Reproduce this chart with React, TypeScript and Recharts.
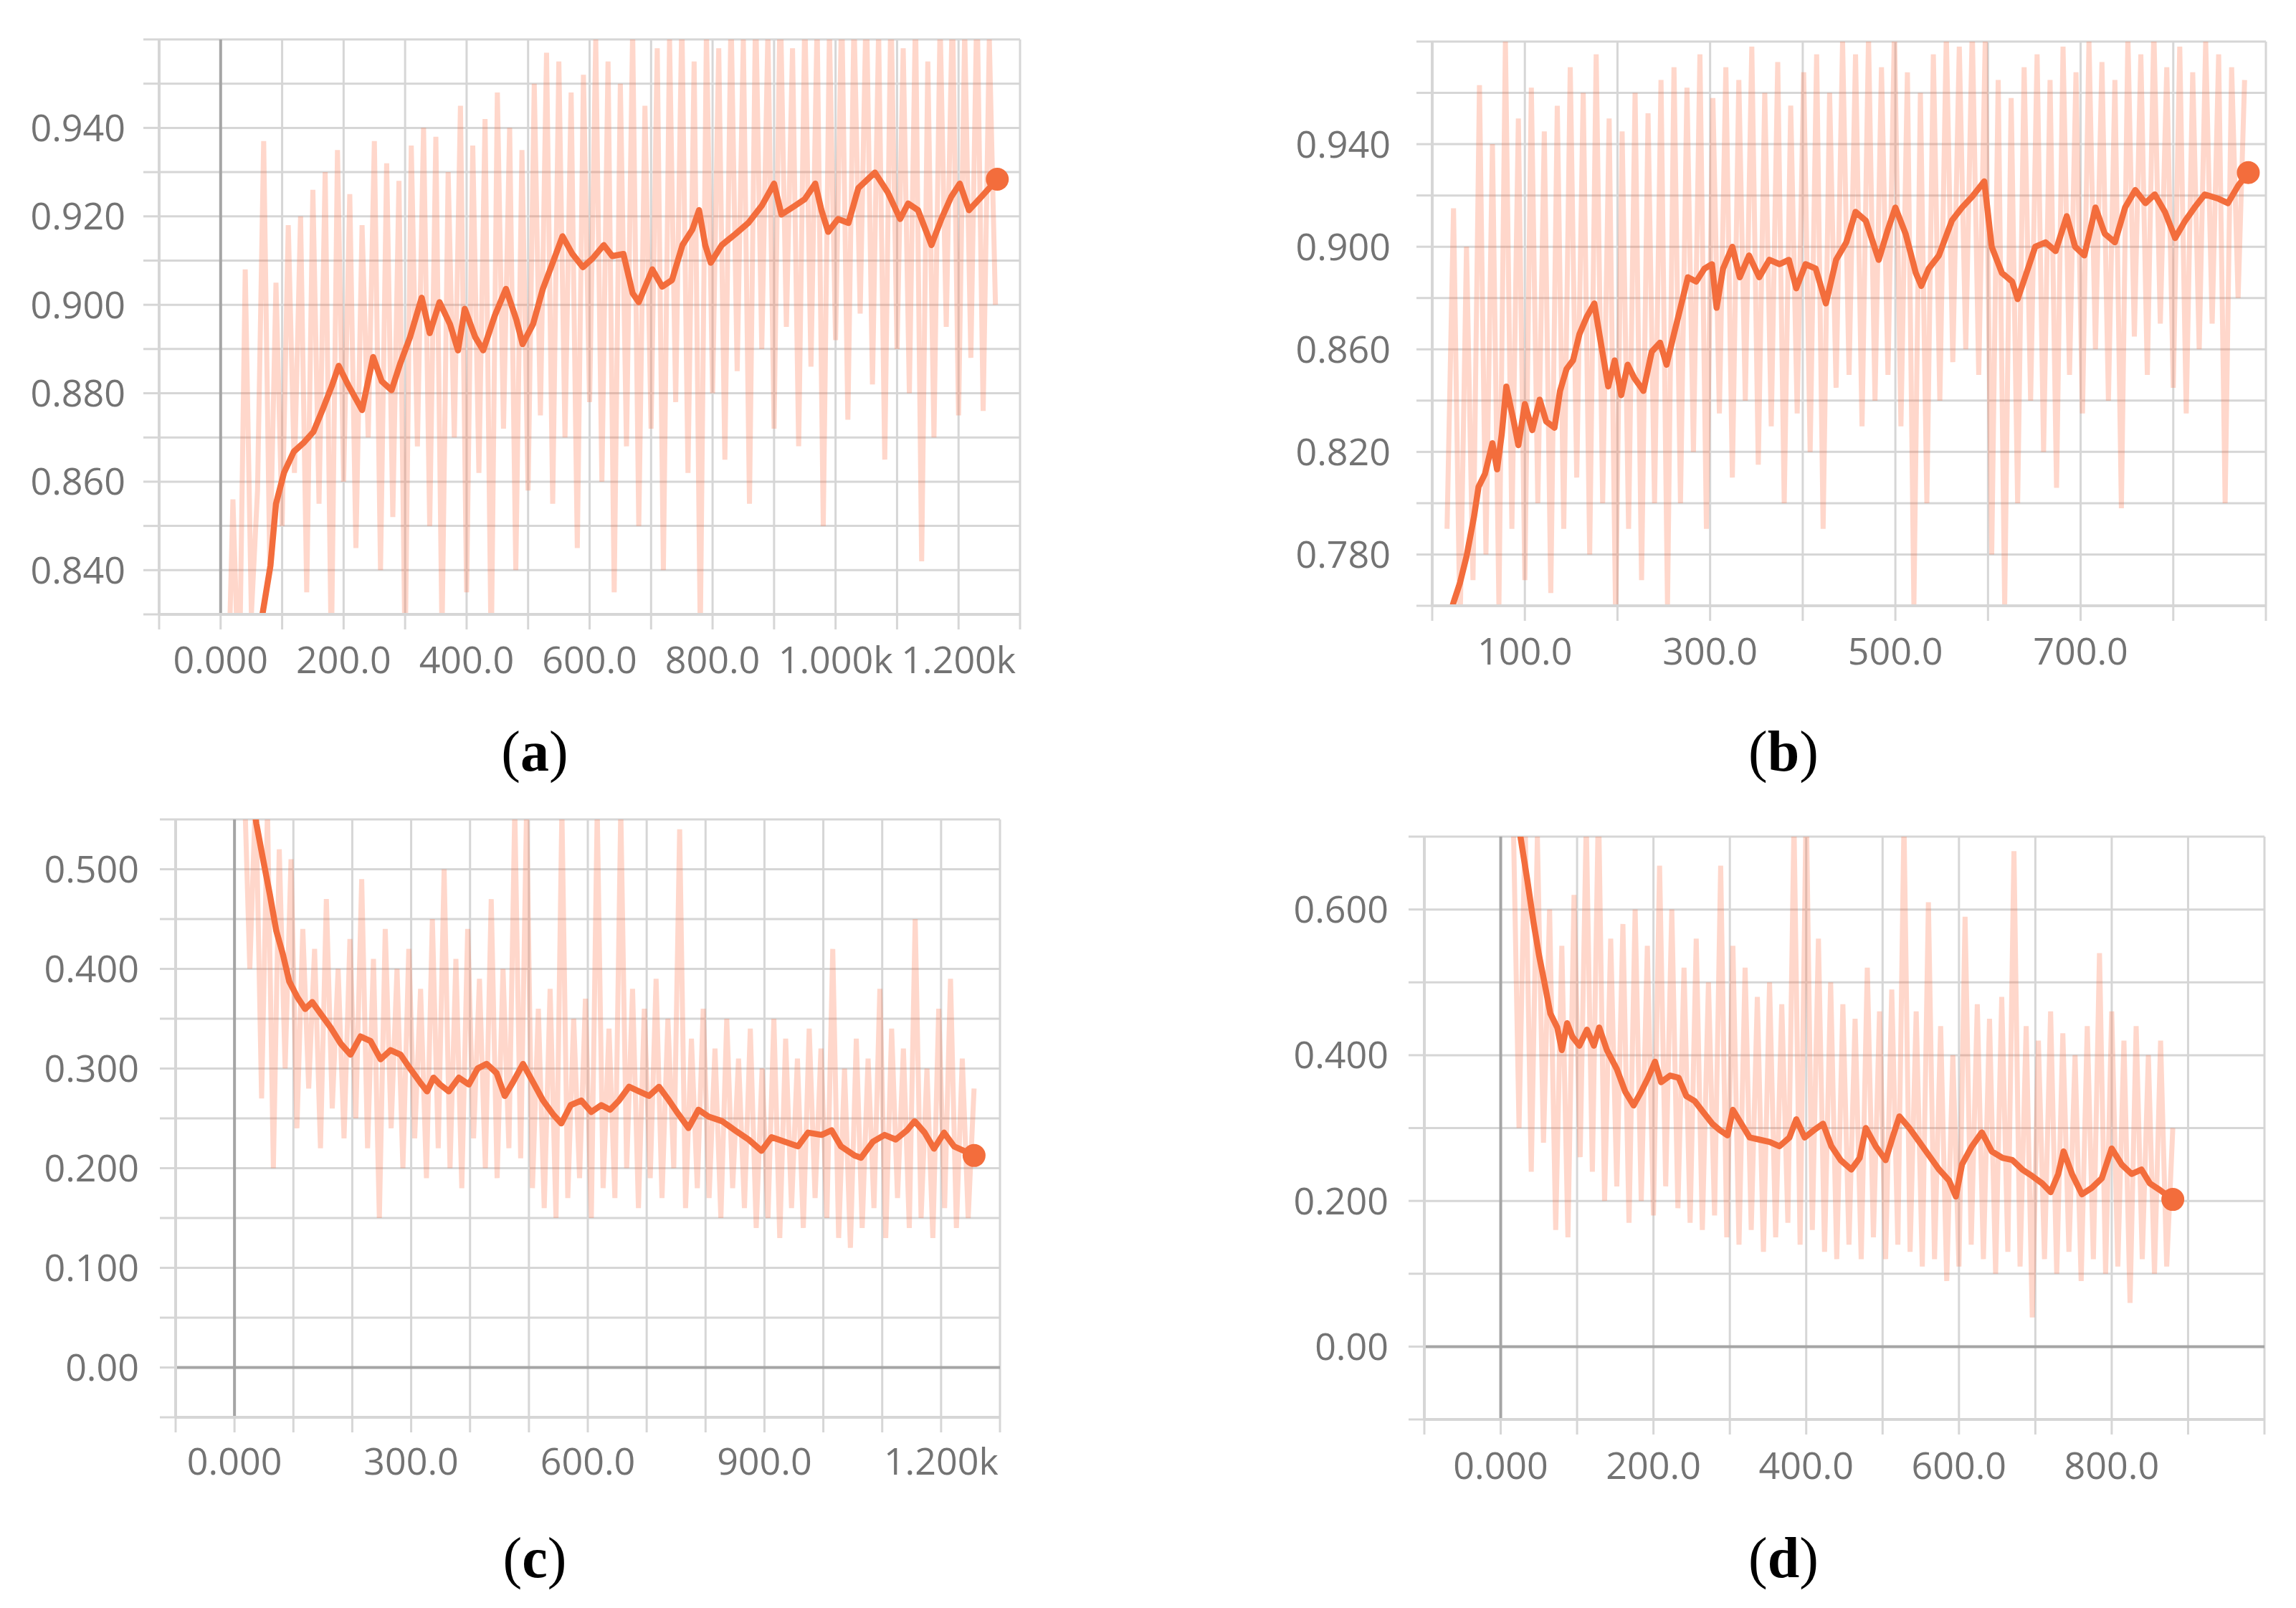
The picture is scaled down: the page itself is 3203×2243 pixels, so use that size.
import { LineChart, Line, XAxis, YAxis, CartesianGrid, ReferenceLine, ReferenceDot } from "recharts";

// ─── Colours ────────────────────────────────────────────────────────────────
const SMOOTH = "#f36d3c";
const RAW = "#ff7043";
const GRID = "#d6d6d6";
const ZERO = "#a5a5a5";
const TICK_TEXT = "#737373";

const tickFont = { fontFamily: "Open Sans", fontSize: 52, fill: TICK_TEXT };

// ─── (a) ────────────────────────────────────────────────────────────────────
const aSmooth: [number, number][] = [
	[15, 0.79], [40, 0.808], [60, 0.822], [68, 0.83], [81, 0.841], [90, 0.855], [103, 0.862], [119, 0.8668],
	[135, 0.8688], [151, 0.8713], [167, 0.8767], [181, 0.8817], [192, 0.8862], [208, 0.8817], [230, 0.8762],
	[248, 0.8882], [262, 0.8827], [278, 0.8807], [292, 0.8867], [308, 0.8927], [327, 0.9016], [340, 0.8936],
	[356, 0.9006], [373, 0.8956], [386, 0.8897], [397, 0.8991], [414, 0.8927], [427, 0.8897], [446, 0.8976],
	[464, 0.9036], [481, 0.8966], [491, 0.8911], [508, 0.8956], [524, 0.9036], [540, 0.9095], [556, 0.9155],
	[572, 0.9115], [589, 0.9085], [605, 0.9105], [623, 0.9135], [637, 0.911], [655, 0.9115], [670, 0.9026],
	[680, 0.9006], [702, 0.908], [718, 0.9041], [734, 0.9056], [751, 0.9135], [767, 0.917], [778, 0.9214],
	[788, 0.9135], [797, 0.9095], [815, 0.9135], [837, 0.916], [858, 0.9185], [880, 0.9224], [900, 0.9274],
	[912, 0.9204], [934, 0.9224], [950, 0.9239], [967, 0.9274], [977, 0.9214], [988, 0.9165], [1004, 0.9194],
	[1021, 0.9185], [1037, 0.9264], [1064, 0.9299], [1085, 0.9254], [1105, 0.9194], [1118, 0.9229],
	[1134, 0.9214], [1156, 0.9135], [1172, 0.9194], [1188, 0.9244], [1202, 0.9274], [1217, 0.9214],
	[1237, 0.9244], [1263, 0.9284],
];
const aRawStart = 10;
const aRawStep = 10;
const aRaw = [
	0.8, 0.856, 0.81, 0.908, 0.83, 0.858, 0.937, 0.84, 0.905, 0.85, 0.918, 0.862, 0.92, 0.835, 0.926, 0.855,
	0.93, 0.82, 0.935, 0.86, 0.925, 0.845, 0.918, 0.87, 0.937, 0.84, 0.932, 0.852, 0.928, 0.82, 0.936, 0.868,
	0.94, 0.85, 0.938, 0.825, 0.93, 0.87, 0.945, 0.835, 0.936, 0.862, 0.942, 0.82, 0.948, 0.872, 0.94, 0.84,
	0.935, 0.858, 0.95, 0.875, 0.957, 0.855, 0.955, 0.87, 0.948, 0.845, 0.952, 0.878, 0.96, 0.86, 0.955, 0.835,
	0.95, 0.868, 0.962, 0.85, 0.945, 0.872, 0.958, 0.84, 0.96, 0.878, 0.965, 0.862, 0.955, 0.825, 0.962, 0.88,
	0.958, 0.865, 0.966, 0.885, 0.96, 0.855, 0.968, 0.89, 0.962, 0.872, 0.97, 0.895, 0.958, 0.868, 0.966, 0.886,
	0.964, 0.85, 0.962, 0.892, 0.968, 0.874, 0.965, 0.898, 0.97, 0.882, 0.962, 0.865, 0.968, 0.89, 0.958, 0.88,
	0.966, 0.842, 0.955, 0.87, 0.964, 0.895, 0.968, 0.875, 0.962, 0.888, 0.97, 0.876, 0.96, 0.9,
];
const aXTicks = [-100, 0, 100, 200, 300, 400, 500, 600, 700, 800, 900, 1000, 1100, 1200, 1300];
const aXLabels = ["", "0.000", "", "200.0", "", "400.0", "", "600.0", "", "800.0", "", "1.000k", "", "1.200k", ""];
const aYTicks = [0.83, 0.84, 0.85, 0.86, 0.87, 0.88, 0.89, 0.9, 0.91, 0.92, 0.93, 0.94, 0.95, 0.96];
const aYLabels = ["", "0.840", "", "0.860", "", "0.880", "", "0.900", "", "0.920", "", "0.940", "", ""];

// ─── (b) ────────────────────────────────────────────────────────────────────
const bSmooth: [number, number][] = [
	[16, 0.752], [23, 0.7613], [30, 0.769], [37, 0.7792], [45, 0.7945], [50, 0.8064], [57, 0.8115],
	[65, 0.8234], [70, 0.8132], [75, 0.8268], [80, 0.8455], [88, 0.8319], [93, 0.8226], [100, 0.8387],
	[108, 0.8285], [116, 0.8404], [123, 0.8319], [132, 0.8294], [138, 0.8438], [145, 0.8523], [152, 0.8557],
	[159, 0.866], [167, 0.8728], [175, 0.8779], [182, 0.8626], [190, 0.8455], [197, 0.8557], [204, 0.8421],
	[211, 0.854], [218, 0.8489], [228, 0.8438], [237, 0.8591], [246, 0.8626], [253, 0.854], [261, 0.866],
	[268, 0.8762], [276, 0.8881], [285, 0.8864], [294, 0.8915], [302, 0.8932], [307, 0.8762], [314, 0.8915],
	[324, 0.9], [332, 0.8881], [342, 0.8966], [353, 0.8881], [364, 0.8949], [375, 0.8932], [385, 0.8949],
	[393, 0.8838], [403, 0.8932], [414, 0.8915], [425, 0.8779], [436, 0.8949], [447, 0.9017], [457, 0.9136],
	[468, 0.9102], [482, 0.8949], [492, 0.9068], [500, 0.9153], [511, 0.9051], [522, 0.8898], [528, 0.8847],
	[536, 0.8915], [547, 0.8966], [561, 0.9102], [572, 0.9153], [583, 0.9196], [596, 0.9255], [604, 0.9],
	[615, 0.8898], [626, 0.8864], [632, 0.8796], [640, 0.8881], [651, 0.9], [662, 0.9017], [673, 0.8983],
	[685, 0.9119], [694, 0.9], [704, 0.8966], [716, 0.9153], [726, 0.9051], [737, 0.9017], [748, 0.9153],
	[759, 0.9221], [770, 0.917], [780, 0.9204], [791, 0.9136], [802, 0.9034], [813, 0.9102], [823, 0.9153],
	[834, 0.9204], [849, 0.9187], [859, 0.917], [870, 0.9238], [881, 0.9289],
];
const bRawStart = 16;
const bRawStep = 7;
const bRaw = [
	0.79, 0.915, 0.75, 0.9, 0.77, 0.963, 0.78, 0.94, 0.76, 0.98, 0.79, 0.95, 0.77, 0.962, 0.8, 0.945, 0.765,
	0.955, 0.79, 0.97, 0.81, 0.96, 0.78, 0.975, 0.8, 0.95, 0.755, 0.945, 0.79, 0.96, 0.77, 0.952, 0.8, 0.965,
	0.76, 0.97, 0.8, 0.962, 0.82, 0.975, 0.79, 0.958, 0.835, 0.97, 0.81, 0.965, 0.84, 0.978, 0.815, 0.96, 0.83,
	0.972, 0.8, 0.955, 0.835, 0.968, 0.82, 0.975, 0.79, 0.96, 0.845, 0.98, 0.85, 0.975, 0.83, 0.982, 0.84,
	0.97, 0.85, 0.985, 0.83, 0.968, 0.76, 0.96, 0.8, 0.975, 0.84, 0.983, 0.855, 0.978, 0.86, 0.985, 0.85,
	0.98, 0.78, 0.965, 0.76, 0.958, 0.8, 0.97, 0.84, 0.975, 0.82, 0.965, 0.806, 0.978, 0.85, 0.968, 0.835,
	0.98, 0.86, 0.972, 0.84, 0.965, 0.798, 0.982, 0.865, 0.975, 0.85, 0.985, 0.87, 0.97, 0.845, 0.978, 0.835,
	0.968, 0.86, 0.98, 0.87, 0.975, 0.8, 0.97, 0.88, 0.965,
];
const bXTicks = [0, 100, 200, 300, 400, 500, 600, 700, 800, 900];
const bXLabels = ["", "100.0", "", "300.0", "", "500.0", "", "700.0", "", ""];
const bYTicks = [0.76, 0.78, 0.8, 0.82, 0.84, 0.86, 0.88, 0.9, 0.92, 0.94, 0.96, 0.98];
const bYLabels = ["", "0.780", "", "0.820", "", "0.860", "", "0.900", "", "0.940", "", ""];

// ─── (c) ────────────────────────────────────────────────────────────────────
const cSmooth: [number, number][] = [
	[20, 0.63], [30, 0.585], [37, 0.546], [48, 0.5115], [60, 0.4747], [71, 0.438], [82, 0.415], [93, 0.3874],
	[107, 0.3713], [120, 0.3598], [132, 0.3667], [146, 0.3552], [163, 0.3414], [180, 0.3253], [197, 0.3139],
	[214, 0.3322], [231, 0.3276], [248, 0.3093], [265, 0.3185], [282, 0.3139], [298, 0.3001], [315, 0.2863],
	[327, 0.2771], [338, 0.2909], [349, 0.284], [364, 0.2771], [381, 0.2909], [398, 0.284], [413, 0.3001],
	[428, 0.3047], [445, 0.2955], [459, 0.2725], [473, 0.2863], [490, 0.3047], [507, 0.2863], [524, 0.2679],
	[541, 0.2541], [555, 0.2449], [571, 0.2633], [589, 0.2679], [606, 0.2564], [623, 0.2633], [638, 0.2587],
	[653, 0.2679], [670, 0.2817], [687, 0.2771], [704, 0.2725], [721, 0.2817], [738, 0.2679], [754, 0.2541],
	[771, 0.2403], [788, 0.2587], [805, 0.2518], [828, 0.2472], [850, 0.238], [873, 0.2288], [895, 0.2174],
	[912, 0.2311], [935, 0.2265], [957, 0.2219], [974, 0.2357], [997, 0.2334], [1014, 0.238], [1030, 0.2219],
	[1053, 0.2127], [1064, 0.2104], [1084, 0.2265], [1104, 0.2334], [1123, 0.2288], [1142, 0.238],
	[1155, 0.2472], [1172, 0.2357], [1188, 0.2196], [1205, 0.2357], [1222, 0.2219], [1239, 0.2174],
	[1256, 0.2127],
];
const cRawStart = 16;
const cRawStep = 10;
const cRaw = [
	0.6, 0.4, 0.58, 0.27, 0.56, 0.2, 0.52, 0.3, 0.51, 0.24, 0.44, 0.28, 0.42, 0.22, 0.47, 0.26, 0.4, 0.23,
	0.43, 0.25, 0.49, 0.22, 0.41, 0.15, 0.44, 0.24, 0.4, 0.2, 0.42, 0.23, 0.38, 0.19, 0.45, 0.22, 0.5, 0.2,
	0.41, 0.18, 0.44, 0.23, 0.39, 0.2, 0.47, 0.19, 0.4, 0.22, 0.56, 0.21, 0.56, 0.18, 0.36, 0.16, 0.38, 0.15,
	0.56, 0.17, 0.35, 0.19, 0.37, 0.15, 0.56, 0.18, 0.34, 0.17, 0.56, 0.2, 0.38, 0.16, 0.36, 0.19, 0.39, 0.17,
	0.35, 0.2, 0.54, 0.16, 0.33, 0.18, 0.36, 0.17, 0.32, 0.15, 0.35, 0.18, 0.31, 0.16, 0.34, 0.14, 0.3, 0.15,
	0.35, 0.13, 0.33, 0.16, 0.31, 0.14, 0.34, 0.17, 0.32, 0.15, 0.42, 0.13, 0.3, 0.12, 0.33, 0.14, 0.31, 0.16,
	0.38, 0.13, 0.34, 0.17, 0.32, 0.14, 0.45, 0.15, 0.3, 0.13, 0.36, 0.16, 0.39, 0.14, 0.31, 0.15, 0.28,
];
const cXTicks = [-100, 0, 100, 200, 300, 400, 500, 600, 700, 800, 900, 1000, 1100, 1200, 1300];
const cXLabels = ["", "0.000", "", "", "300.0", "", "", "600.0", "", "", "900.0", "", "", "1.200k", ""];
const cYTicks = [-0.05, 0, 0.05, 0.1, 0.15, 0.2, 0.25, 0.3, 0.35, 0.4, 0.45, 0.5, 0.55];
const cYLabels = ["", "0.00", "", "0.100", "", "0.200", "", "0.300", "", "0.400", "", "0.500", ""];

// ─── (d) ────────────────────────────────────────────────────────────────────
const dSmooth: [number, number][] = [
	[16, 0.77], [26, 0.699], [35, 0.639], [43, 0.582], [50, 0.538], [57, 0.501], [65, 0.457], [74, 0.438],
	[80, 0.407], [87, 0.444], [94, 0.425], [103, 0.413], [113, 0.435], [122, 0.413], [129, 0.438], [139, 0.407],
	[152, 0.381], [163, 0.35], [174, 0.331], [184, 0.35], [193, 0.369], [202, 0.391], [210, 0.363], [222, 0.372],
	[233, 0.369], [243, 0.344], [254, 0.337], [265, 0.322], [277, 0.306], [287, 0.297], [297, 0.29], [304, 0.325],
	[315, 0.306], [326, 0.287], [339, 0.284], [352, 0.281], [365, 0.275], [378, 0.287], [387, 0.312], [398, 0.287],
	[410, 0.297], [422, 0.306], [433, 0.275], [445, 0.256], [459, 0.243], [470, 0.259], [478, 0.3], [491, 0.275],
	[504, 0.256], [513, 0.287], [522, 0.316], [535, 0.3], [548, 0.281], [561, 0.262], [574, 0.243], [587, 0.228],
	[596, 0.206], [604, 0.25], [617, 0.275], [630, 0.294], [643, 0.268], [657, 0.259], [670, 0.256], [683, 0.243],
	[696, 0.234], [709, 0.224], [720, 0.212], [730, 0.237], [737, 0.268], [748, 0.237], [761, 0.209], [774, 0.218],
	[787, 0.231], [800, 0.272], [813, 0.25], [826, 0.237], [839, 0.243], [850, 0.224], [863, 0.215], [880, 0.202],
];
const dRawStart = 16;
const dRawStep = 8;
const dRaw = [
	0.75, 0.3, 0.72, 0.24, 0.7, 0.28, 0.6, 0.16, 0.55, 0.15, 0.62, 0.26, 0.72, 0.24, 0.75, 0.2, 0.56, 0.22,
	0.58, 0.17, 0.6, 0.2, 0.55, 0.18, 0.66, 0.22, 0.6, 0.19, 0.52, 0.17, 0.56, 0.16, 0.5, 0.18, 0.66, 0.15,
	0.55, 0.14, 0.52, 0.16, 0.48, 0.13, 0.5, 0.15, 0.47, 0.17, 0.72, 0.14, 0.75, 0.16, 0.56, 0.13, 0.5, 0.12,
	0.47, 0.14, 0.45, 0.12, 0.52, 0.15, 0.46, 0.12, 0.49, 0.14, 0.72, 0.13, 0.46, 0.11, 0.61, 0.12, 0.44, 0.09,
	0.4, 0.11, 0.59, 0.14, 0.47, 0.12, 0.45, 0.1, 0.48, 0.13, 0.68, 0.11, 0.44, 0.04, 0.42, 0.12, 0.46, 0.1,
	0.43, 0.13, 0.4, 0.09, 0.44, 0.12, 0.54, 0.1, 0.46, 0.11, 0.42, 0.06, 0.44, 0.12, 0.4, 0.1, 0.42, 0.11, 0.3,
];
const dXTicks = [-100, 0, 100, 200, 300, 400, 500, 600, 700, 800, 900, 1000];
const dXLabels = ["", "0.000", "", "200.0", "", "400.0", "", "600.0", "", "800.0", "", ""];
const dYTicks = [-0.1, 0, 0.1, 0.2, 0.3, 0.4, 0.5, 0.6, 0.7];
const dYLabels = ["", "0.00", "", "0.200", "", "0.400", "", "0.600", ""];

// ─── Panel ──────────────────────────────────────────────────────────────────

function labelFor(ticks: number[], labels: string[]) {
	return (v: number) => {
		const i = ticks.findIndex((t) => Math.abs(t - v) < 1e-9);
		return i >= 0 ? labels[i] : "";
	};
}

interface PanelProps {
	left: number;
	top: number;
	width: number;
	height: number;
	margin: { top: number; right: number; bottom: number; left: number };
	yWidth: number;
	yTickMargin: number;
	xTickMargin: number;
	smooth: [number, number][];
	rawStart: number;
	rawStep: number;
	raw: number[];
	xTicks: number[];
	xLabels: string[];
	yTicks: number[];
	yLabels: string[];
	zeroY?: boolean;
}

function Panel(p: PanelProps) {
	const rawData = p.raw.map((v, i) => ({ step: p.rawStart + i * p.rawStep, value: v }));
	const smoothData = p.smooth.map(([s, v]) => ({ step: s, value: v }));
	const last = smoothData[smoothData.length - 1];
	const xDomain = [p.xTicks[0], p.xTicks[p.xTicks.length - 1]];
	const yDomain = [p.yTicks[0], p.yTicks[p.yTicks.length - 1]];

	return (
		<div style={{ position: "absolute", left: p.left, top: p.top }}>
			<LineChart width={p.width} height={p.height} margin={p.margin}>
				<CartesianGrid stroke={GRID} strokeWidth={3} />
				<XAxis
					type="number"
					dataKey="step"
					domain={xDomain}
					ticks={p.xTicks}
					interval={0}
					allowDataOverflow
					tickFormatter={labelFor(p.xTicks, p.xLabels)}
					tick={tickFont}
					tickSize={21}
					tickMargin={p.xTickMargin}
					axisLine={{ stroke: GRID, strokeWidth: 4 }}
					tickLine={{ stroke: GRID, strokeWidth: 3 }}
					height={100}
				/>
				<YAxis
					type="number"
					dataKey="value"
					domain={yDomain}
					ticks={p.yTicks}
					interval={0}
					allowDataOverflow
					tickFormatter={labelFor(p.yTicks, p.yLabels)}
					tick={tickFont}
					tickSize={22}
					tickMargin={p.yTickMargin}
					axisLine={{ stroke: GRID, strokeWidth: 4 }}
					tickLine={{ stroke: GRID, strokeWidth: 3 }}
					width={p.yWidth}
				/>
				<ReferenceLine x={0} stroke={ZERO} strokeWidth={4} />
				{p.zeroY && <ReferenceLine y={0} stroke={ZERO} strokeWidth={4} />}
				{/* raw values: one path, so the opacity stays even where it crosses itself */}
				<Line
					data={rawData}
					dataKey="value"
					type="linear"
					stroke={RAW}
					strokeOpacity={0.28}
					strokeWidth={7}
					dot={false}
					isAnimationActive={false}
				/>
				<Line
					data={smoothData}
					dataKey="value"
					type="linear"
					stroke={SMOOTH}
					strokeWidth={8.5}
					strokeLinejoin="round"
					dot={false}
					isAnimationActive={false}
				/>
				<ReferenceDot x={last.step} y={last.value} r={16} fill={SMOOTH} stroke="none" />
			</LineChart>
		</div>
	);
}

function Caption({ x, y, letter }: { x: number; y: number; letter: string }) {
	return (
		<div
			style={{
				position: "absolute",
				left: x - 100,
				top: y,
				width: 200,
				textAlign: "center",
				fontFamily: "Liberation Serif, Times New Roman, serif",
				fontSize: 80,
				lineHeight: "80px",
				color: "#000",
			}}
		>
			(<b>{letter}</b>)
		</div>
	);
}

export default function App() {
	return (
		<div
			style={{
				position: "relative",
				width: 3203,
				height: 2243,
				marginLeft: -8,
				marginTop: -8,
				background: "#fff",
				overflow: "hidden",
			}}
		>
			<Panel
				left={0}
				top={0}
				width={1450}
				height={960}
				margin={{ top: 55, right: 27, bottom: 3, left: 0 }}
				yWidth={222}
				yTickMargin={25}
				xTickMargin={24}
				smooth={aSmooth}
				rawStart={aRawStart}
				rawStep={aRawStep}
				raw={aRaw}
				xTicks={aXTicks}
				xLabels={aXLabels}
				yTicks={aYTicks}
				yLabels={aYLabels}
			/>
			<Panel
				left={1750}
				top={0}
				width={1453}
				height={960}
				margin={{ top: 58, right: 42, bottom: 15, left: 0 }}
				yWidth={248}
				yTickMargin={36}
				xTickMargin={24}
				smooth={bSmooth}
				rawStart={bRawStart}
				rawStep={bRawStep}
				raw={bRaw}
				xTicks={bXTicks}
				xLabels={bXLabels}
				yTicks={bYTicks}
				yLabels={bYLabels}
			/>
			<Panel
				left={0}
				top={1100}
				width={1450}
				height={1000}
				margin={{ top: 43, right: 55, bottom: 23, left: 0 }}
				yWidth={245}
				yTickMargin={29}
				xTickMargin={22}
				smooth={cSmooth}
				rawStart={cRawStart}
				rawStep={cRawStep}
				raw={cRaw}
				xTicks={cXTicks}
				xLabels={cXLabels}
				yTicks={cYTicks}
				yLabels={cYLabels}
				zeroY
			/>
			<Panel
				left={1750}
				top={1100}
				width={1453}
				height={1000}
				margin={{ top: 67, right: 44, bottom: 20, left: 0 }}
				yWidth={237}
				yTickMargin={28}
				xTickMargin={25}
				smooth={dSmooth}
				rawStart={dRawStart}
				rawStep={dRawStep}
				raw={dRaw}
				xTicks={dXTicks}
				xLabels={dXLabels}
				yTicks={dYTicks}
				yLabels={dYLabels}
				zeroY
			/>
			<Caption x={746} y={1008} letter="a" />
			<Caption x={2488} y={1008} letter="b" />
			<Caption x={746} y={2133} letter="c" />
			<Caption x={2488} y={2133} letter="d" />
		</div>
	);
}
